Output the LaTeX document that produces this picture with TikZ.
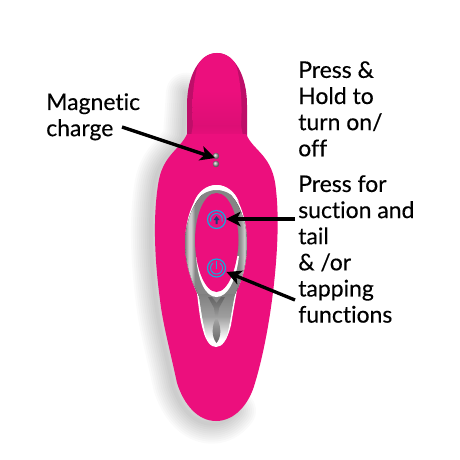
\documentclass[tikz,border=0pt]{standalone}
\usepackage{fontspec}
\setmainfont{Lato}[Ligatures=NoCommon,BoldFont=Lato,BoldFeatures={FakeBold=0.3}]
\usetikzlibrary{arrows.meta,fadings,shadings}
\definecolor{bodypink}{HTML}{EC0F7D}
\definecolor{darkpink}{HTML}{BE0E69}
\definecolor{shadepink}{HTML}{DC0E75}
\definecolor{btncyan}{HTML}{18A8DC}
\definecolor{arrowblue}{HTML}{1A3C78}
\colorlet{silverA}{black!50}
\colorlet{silverB}{black!20}
\colorlet{silverC}{black!48}
% silver band across the ring, from the left rim to the right rim
\pgfdeclarehorizontalshading{ringsilver}{100bp}{
  color(0bp)=(silverA);color(25bp)=(silverA);color(28bp)=(silverB);
  color(30bp)=(silverB);color(33bp)=(silverC);color(50bp)=(silverC);
  color(68bp)=(silverC);color(70bp)=(black!40);color(73bp)=(silverB);
  color(75bp)=(silverA);color(100bp)=(silverA)}
\tikzset{
  x=0.75pt,y=-0.75pt,
  label text/.style={anchor=north west,align=left,inner sep=0pt,text=black,
    font=\fontsize{17.2}{19.6}\selectfont\bfseries},
  callout/.style={draw=black,line width=2.5pt,
    -{Stealth[length=11pt,width=11pt,inset=3pt]}},
  stud/.style={circle,minimum size=4.8pt,inner sep=0pt,shading=ball,ball color=black!35},
  btn/.style={circle,minimum size=13.5pt,inner sep=0pt,draw=btncyan,line width=0.9pt},
  btnline/.style={draw=btncyan,line width=0.8pt},
}
% outline of the main body
\newcommand{\bodyoutline}{
  (187,134) .. controls (180,150) and (162,155) .. (158,185)
  .. controls (152,225) and (156,270) .. (160,300)
  .. controls (163,325) and (170,350) .. (177,383)
  .. controls (184,405) and (198,421) .. (216,421)
  .. controls (234,421) and (249,405) .. (255,383)
  .. controls (262,360) and (268,330) .. (272,300)
  .. controls (276,270) and (280,225) .. (276,190)
  .. controls (273,155) and (254,152) .. (246,134)
}
\newcommand{\neckoutline}{
  (217,53) .. controls (200,53) and (187,75) .. (187,105)
  -- (187,142) -- (247,142) -- (247,105)
  .. controls (247,75) and (234,53) .. (217,53) -- cycle
}
\begin{document}
\begin{tikzpicture}
\useasboundingbox (0,0) rectangle (460,460);
\fill[white] (0,0) rectangle (460,460);

% soft shadow cast to the lower left
\begin{scope}[xshift=-3pt,yshift=-2pt]
\foreach \w in {30,27,24,21,18,15,12,9,6,3}{
  \draw[black,opacity=0.018,line width=\w pt,line join=round,line cap=round]
    (190,90) -- (187,134) .. controls (180,150) and (162,155) .. (158,185)
    .. controls (152,225) and (156,270) .. (160,300)
    .. controls (163,325) and (170,350) .. (177,383)
    .. controls (184,405) and (198,421) .. (216,421)
    .. controls (226,421) and (234,416) .. (240,408);
}
\end{scope}

% neck, with its darker sides
\fill[darkpink] \neckoutline;
\shade[top color=bodypink,bottom color=shadepink,middle color=bodypink]
  (217,53) .. controls (207,53) and (199,60) .. (197,68)
  .. controls (192,90) and (192,110) .. (193,125) -- (195,128) -- (239,128) -- (241,125)
  .. controls (242,110) and (242,90) .. (237,68)
  .. controls (235,60) and (227,53) .. (217,53) -- cycle;
\shade[top color=shadepink,bottom color=bodypink]
  (193,125) -- (190,142) -- (244,142) -- (241,125) -- cycle;

% main body
\fill[bodypink] \bodyoutline -- cycle;

% silhouette of the trim, white at its rim
\fill[white] (216.5,185) .. controls (197,185) and (185,215) .. (185,243)
  .. controls (185,265) and (192,282) .. (197,293)
  .. controls (199,310) and (200,320) .. (203,330)
  .. controls (206,342) and (211,347) .. (216,347)
  .. controls (222,347) and (227,341) .. (231,325)
  .. controls (233,312) and (235,302) .. (237,290)
  .. controls (242,280) and (247,265) .. (247,243)
  .. controls (247,215) and (236,185) .. (216.5,185) -- cycle;

% silver ring band
\fill[shading=ringsilver]
  (216.5,188) .. controls (199,188) and (185,217) .. (185,243)
  .. controls (185,262) and (191,281) .. (199,296)
  -- (234,296) .. controls (242,281) and (247,262) .. (247,243)
  .. controls (247,217) and (234,188) .. (216.5,188) -- cycle;

% tail body, paling towards its tip
\shade[top color=black!50,bottom color=white,middle color=black!38]
  (198.5,294) .. controls (201,310) and (203,325) .. (207,339)
  -- (226,339) .. controls (230,325) and (232,308) .. (235,294) -- cycle;
\fill[black!60,path fading=south]
  (208,297) -- (214,308) -- (215,316) -- (218,316) -- (219,308) -- (225,297) -- (221,297) -- (216.5,303) -- (212,297) -- cycle;
\shade[top color=black!35,bottom color=black!60]
  (216,318) .. controls (211,327) and (212,338) .. (216.5,343)
  .. controls (221,338) and (222,328) .. (217,318) -- cycle;

% white highlight under the ring's opening
\fill[white] (196,256) .. controls (198,282) and (206,297) .. (216.5,297)
  .. controls (227,297) and (236,282) .. (239,256) -- cycle;

% top highlight of the ring
\fill[white] (216.5,185) .. controls (206,185) and (198,192) .. (194,202)
  .. controls (200,195) and (207,190) .. (216.5,190)
  .. controls (226,190) and (233,195) .. (239,202)
  .. controls (235,192) and (227,185) .. (216.5,185) -- cycle;

% recess inside the ring
\fill[bodypink] (216.5,193) .. controls (203,193) and (195,218) .. (195,240)
  .. controls (195,268) and (205,292) .. (216.5,292)
  .. controls (228,292) and (238,268) .. (238.5,240)
  .. controls (238.5,218) and (230,193) .. (216.5,193) -- cycle;

% magnetic charging studs
\node[stud] (studA) at (216,156) {};
\node[stud] (studB) at (216,164) {};

% suction button
\node[btn] (btnUp) at (216.5,219.5) {};
\draw[btnline] (btnUp.center) ++(200:4.5pt) arc[start angle=200,end angle=-20,radius=4.5pt];
\fill[arrowblue] (216.5,216) -- (213.5,220) -- (215.5,220) -- (215.5,224) -- (217.5,224) -- (217.5,220) -- (219.5,220) -- cycle;

% power button
\node[btn] (btnPower) at (216.5,268) {};
\draw[btnline] (btnPower.center) ++(55:4.5pt) arc[start angle=55,end angle=-235,radius=4.5pt];
\draw[btnline] (216.5,260.5) -- (216.5,269);

% labels
\node[label text] (magnetic) at (46,93) {Magnetic\\charge};
\node[label text] (hold) at (298,61) {Press \&\\Hold to\\turn on/\\off};
\node[label text] (press) at (298,175) {Press for\\suction and\\tail\\\& /or\\tapping\\functions};

% connector ends on the text side
\coordinate (fromMagnetic) at (122,127);
\coordinate (fromSuction) at (295,219);
\coordinate (fromTapping) at (295,300);
\coordinate (toStud) at (215,158);
\coordinate (toUp) at (226,219);
\coordinate (toPower) at (226.5,272);

\draw[callout] (fromMagnetic) -- (toStud);
\draw[callout] (fromSuction) -- (toUp);
\draw[callout] (fromTapping) -- (toPower);
\end{tikzpicture}
\end{document}
